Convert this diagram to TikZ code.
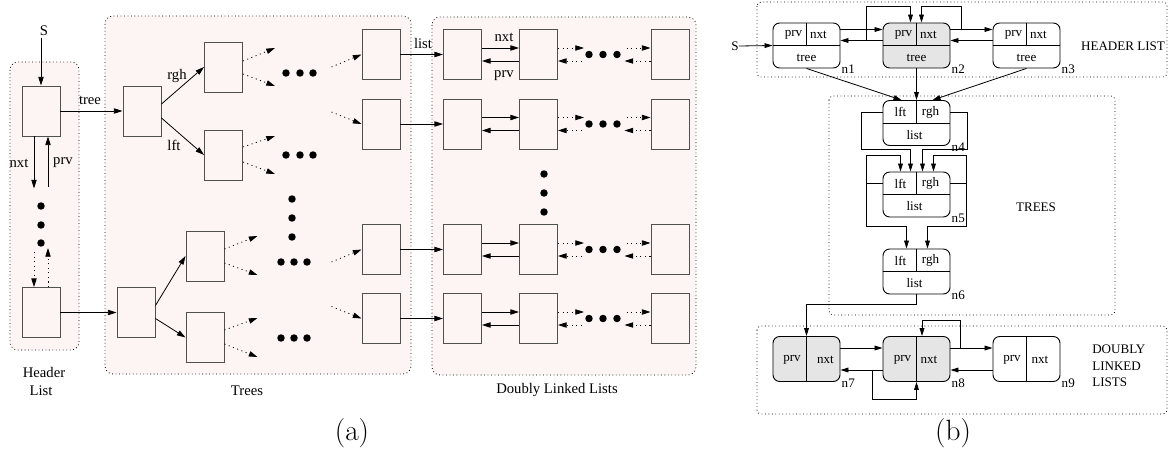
\documentclass[tikz,border=0pt]{standalone}
\usepackage{fontspec}
\setmainfont{Liberation Serif}
\usetikzlibrary{arrows.meta,calc}
\definecolor{pinkbg}{RGB}{253,245,243}
\definecolor{grayfill}{RGB}{229,229,229}
\definecolor{boxline}{RGB}{80,80,80}
\tikzset{
 abox/.style={draw=boxline, fill=pinkbg, line width=0.7pt, minimum width=28.5pt, minimum height=37.5pt, inner sep=0pt},
 arr/.style={-{Triangle[length=6.5pt,width=4pt]}, line width=0.6pt},
 darr/.style={arr, dash pattern=on 0.8pt off 2.6pt},
 region/.style={draw, dotted, fill=pinkbg, rounded corners=6pt, line width=0.6pt},
 bregion/.style={draw, dotted, rounded corners=3pt, line width=0.6pt},
 ta/.style={font=\fontsize{11}{13}\selectfont, inner sep=1pt},
 tb/.style={font=\fontsize{9.8}{12.4}\selectfont, inner sep=0pt},
 rnode/.style={draw, line width=0.7pt, rounded corners=5pt, minimum width=50.25pt, minimum height=33.75pt, inner sep=0pt, fill=white},
 gnode/.style={rnode, fill=grayfill},
 barr/.style={-{Triangle[length=6pt,width=3.6pt]}, line width=0.6pt},
 captxt/.style={font=\fontfamily{lmr}\selectfont\fontsize{22}{26}\selectfont},
}
\begin{document}
\begin{tikzpicture}[x=0.75pt,y=-0.75pt]
\useasboundingbox (0,0) rectangle (1170,453);
% ---------------- (a) ----------------
\draw[region] (10,62) rectangle (79,350);
\draw[region] (105,16) rectangle (411,374);
\draw[region] (432,17) rectangle (696,375);

% header list
\node[abox] (h1) at (41,111) {};
\node[abox] (h2) at (41,312.5) {};
\node[ta] (S) at (44,31) {S};
\draw[arr] (S.south -| h1.north) -- (h1.north);
\draw[arr] ($(h1.south)+(-7,0)$) -- ++(0,52);
\draw[arr] ($(h1.south)+(7,51)$) -- ($(h1.south)+(7,0)$);
\node[ta] at (19,163) {nxt};
\node[ta] at (63,163) {prv};
\foreach \yy in {206,225,243} \fill (41,\yy) circle[radius=2.8pt];
\draw[darr] ($(h2.north)+(-7,-35)$) -- ($(h2.north)+(-7,0)$);
\draw[darr] ($(h2.north)+(7,0)$) -- ($(h2.north)+(7,-39)$);

% tree 1
\node[abox] (t1) at (142,111) {};
\node[abox] (rg1) at (223.5,67) {};
\node[abox] (lf1) at (223.5,155) {};
\draw[arr] (h1.east) -- (t1.west);
\node[ta] at (90,100) {tree};
\draw[arr] ($(t1.east)+(0,-7)$) -- (rg1.west);
\draw[arr] ($(t1.east)+(0,7)$) -- (lf1.west);
\node[ta] at (177,76) {rgh};
\node[ta] at (174,145) {lft};
\draw[darr] ($(rg1.east)+(0,-6)$) -- ++(32,-13);
\draw[darr] ($(rg1.east)+(0,7)$) -- ++(32,12);
\draw[darr] ($(lf1.east)+(0,-8)$) -- ++(32,-11);
\draw[darr] ($(lf1.east)+(0,7)$) -- ++(32,12);

% tree 2
\node[abox] (t2) at (136,312.5) {};
\node[abox] (rg2) at (205,256) {};
\node[abox] (lf2) at (205,337.5) {};
\draw[arr] (h2.east) -- (t2.west);
\draw[arr] ($(t2.east)+(0,-7)$) -- (rg2.west);
\draw[arr] ($(t2.east)+(0,6)$) -- (lf2.west);
\draw[darr] ($(rg2.east)+(0,-7)$) -- ++(33,-13);
\draw[darr] ($(rg2.east)+(0,7)$) -- ++(33,12);
\draw[darr] ($(lf2.east)+(0,-7.5)$) -- ++(33,-12);
\draw[darr] ($(lf2.east)+(0,6.5)$) -- ++(33,13);

% dots in trees
\foreach \xx in {286,300,313} {\fill (\xx,73) circle[radius=2.8pt]; \fill (\xx,155) circle[radius=2.8pt];}
\foreach \yy in {199,218,237} \fill (292,\yy) circle[radius=2.8pt];
\foreach \xx in {281,294,307} {\fill (\xx,262) circle[radius=2.8pt]; \fill (\xx,338) circle[radius=2.8pt];}

% right column of trees and doubly linked lists
\foreach \i/\yy in {1/54.5,2/124,3/249.5,4/318.5} {
  \node[abox] (tr\i) at (381,\yy) {};
  \node[abox] (da\i) at (462.5,\yy) {};
  \node[abox] (db\i) at (538.5,\yy) {};
  \node[abox] (dc\i) at (670,\yy) {};
}
\draw[darr] ($(tr1.west)+(-30,12.5)$) -- (tr1.west);
\draw[darr] ($(tr2.west)+(-30,-12)$) -- (tr2.west);
\draw[darr] ($(tr3.west)+(-30,12.5)$) -- (tr3.west);
\draw[darr] ($(tr4.west)+(-30,-12)$) -- (tr4.west);
\foreach \i/\yy in {1/54.5,2/124,3/249.5,4/318.5} {
  \draw[arr] (tr\i.east) -- (da\i.west);
  \draw[arr] ($(da\i.east)+(0,-6.5)$) -- ($(db\i.west)+(0,-6.5)$);
  \draw[arr] ($(db\i.west)+(0,6.5)$) -- ($(da\i.east)+(0,6.5)$);
  \draw[darr] ($(db\i.east)+(0,-6.5)$) -- ++(26,0);
  \draw[darr] ($(dc\i.west)+(-24,-6.5)$) -- ($(dc\i.west)+(0,-6.5)$);
  \draw[darr] ($(dc\i.west)+(0,6.5)$) -- ++(-26,0);
  \draw[darr] ($(db\i.east)+(24,6.5)$) -- ($(db\i.east)+(0,6.5)$);
  \foreach \xx in {589,603,617} \fill (\xx,\yy) circle[radius=2.8pt];
}
\node[ta] at (423,43) {list};
\node[ta] at (504,37) {nxt};
\node[ta] at (504,76) {prv};
\foreach \yy in {174,193,212} \fill (544,\yy) circle[radius=2.8pt];

\node[ta] at (44,372) {Header};
\node[ta] at (41,391) {List};
\node[ta] at (247,391) {Trees};
\node[ta] at (557,390) {Doubly Linked Lists};
\node[captxt] at (352,433) {(a)};

% ---------------- (b) ----------------
\draw[bregion] (757,2) rectangle (1167,77);
\draw[bregion] (829,96) rectangle (1115,315);
\draw[bregion] (757,326) rectangle (1167,414);

% header list nodes
\node[rnode] (n1) at (806.5,45.5) {};
\node[gnode] (n2) at (916.5,45.5) {};
\node[rnode] (n3) at (1026.5,45.5) {};
\foreach \n/\lab in {n1/n1,n2/n2,n3/n3} {
  \draw[line width=0.7pt] (\n.west) -- (\n.east);
  \draw[line width=0.7pt] (\n.north) -- (\n.center);
  \node[tb] at ($(\n.center)+(-13,-11)$) {prv};
  \node[tb] at ($(\n.center)+(12,-11)$) {nxt};
  \node[tb] at ($(\n.center)+(0,12)$) {tree};
  \node[tb,anchor=west] at ($(\n.south east)+(1,1)$) {\lab};
}
\node[tb] (S2) at (735,46) {S};
\draw[barr] (S2.east) -- (n1.west);
\draw[barr] ($(n1.east)+(0,-16)$) -- ($(n2.west)+(0,-16)$);
\draw[barr] ($(n2.west)+(0,-5)$) -- ($(n1.east)+(0,-5)$);
\draw[barr] ($(n2.east)+(0,-16)$) -- ($(n3.west)+(0,-16)$);
\draw[barr] ($(n3.west)+(0,-5)$) -- ($(n2.east)+(0,-5)$);
\draw[barr] ($(n2.west)+(-16,-5)$) |- ($(n2.north)+(-6,-16)$) -- ($(n2.north)+(-6,0)$);
\draw[barr] ($(n2.east)+(11,-16)$) |- ($(n2.north)+(5,-16)$) -- ($(n2.north)+(5,0)$);
\node[tb] at (1123,46) {HEADER LIST};

% trees
\node[rnode] (n4) at (916.5,123) {};
\node[rnode] (n5) at (916.5,194.5) {};
\node[rnode] (n6) at (916.5,271.5) {};
\foreach \n/\lab in {n4/n4,n5/n5,n6/n6} {
  \draw[line width=0.7pt] (\n.west) -- (\n.east);
  \draw[line width=0.7pt] (\n.north) -- (\n.center);
  \node[tb] at ($(\n.center)+(-16,-11)$) {lft};
  \node[tb] at ($(\n.center)+(14,-11)$) {rgh};
  \node[tb] at ($(\n.center)+(-2,12)$) {list};
  \node[tb,anchor=west] at ($(\n.south east)+(1,1)$) {\lab};
}
\draw[barr] (n1.south) -- ($(n4.north)+(-15,0)$);
\draw[barr] (n2.south) -- (n4.north);
\draw[barr] (n3.south) -- ($(n4.north)+(16,0)$);
\draw[barr] ($(n4.west)+(0,-11)$) -- ++(-21,0) |- ($(n5.north)+(-6,-22)$) -- ($(n5.north)+(-6,0)$);
\draw[barr] ($(n4.east)+(0,-11)$) -- ++(17,0) |- ($(n5.north)+(6,-22)$) -- ($(n5.north)+(6,0)$);
\draw[barr] ($(n5.west)+(0,-11)$) -- ++(-16,0) |- ($(n5.north)+(-16,-16)$) -- ($(n5.north)+(-16,0)$);
\draw[barr] ($(n5.west)+(-16,-11)$) |- ($(n6.north)+(-10,-22)$) -- ($(n6.north)+(-10,0)$);
\draw[barr] ($(n5.east)+(0,-11)$) -- ++(16,0) |- ($(n5.north)+(17,-16)$) -- ($(n5.north)+(17,0)$);
\draw[barr] ($(n5.east)+(16,-11)$) |- ($(n6.north)+(11,-22)$) -- ($(n6.north)+(11,0)$);
\node[tb] at (1036,207) {TREES};

% doubly linked lists
\node[gnode] (n7) at (806.5,359) {};
\node[gnode] (n8) at (916.5,359) {};
\node[rnode] (n9) at (1026.5,359) {};
\foreach \n/\lab in {n7/n7,n8/n8,n9/n9} {
  \draw[line width=0.7pt] (\n.north) -- (\n.south);
  \node[tb,anchor=west] at ($(\n.south east)+(1,1)$) {\lab};
}
\node[tb] at ($(n7.center)+(-14.5,1)$) {prv};
\node[tb] at ($(n7.center)+(19,1)$) {nxt};
\node[tb] at ($(n8.center)+(-14,1)$) {prv};
\node[tb] at ($(n8.center)+(12.5,1)$) {nxt};
\node[tb] at ($(n9.center)+(-14.5,1)$) {prv};
\node[tb] at ($(n9.center)+(13.5,1)$) {nxt};
\draw[barr] (n6.south) -- ++(0,10) -| (n7.north);
\draw[barr] ($(n7.east)+(0,-11)$) -- ($(n8.west)+(0,-11)$);
\draw[barr] ($(n8.west)+(0,11)$) -- ($(n7.east)+(0,11)$);
\draw[barr] ($(n8.east)+(0,-11)$) -- ($(n9.west)+(0,-11)$);
\draw[barr] ($(n9.west)+(0,11)$) -- ($(n8.east)+(0,11)$);
\draw[barr] ($(n8.east)+(10,-11)$) |- ($(n8.north)+(5.5,-16)$) -- ($(n8.north)+(5.5,0)$);
\draw[barr] ($(n8.west)+(-10,11)$) |- ($(n8.south)+(0,17)$) -- (n8.south);
\node[tb,align=left,anchor=west] at (1092,366) {DOUBLY\\LINKED\\LISTS};
\node[captxt] at (953,433) {(b)};
\end{tikzpicture}
\end{document}
